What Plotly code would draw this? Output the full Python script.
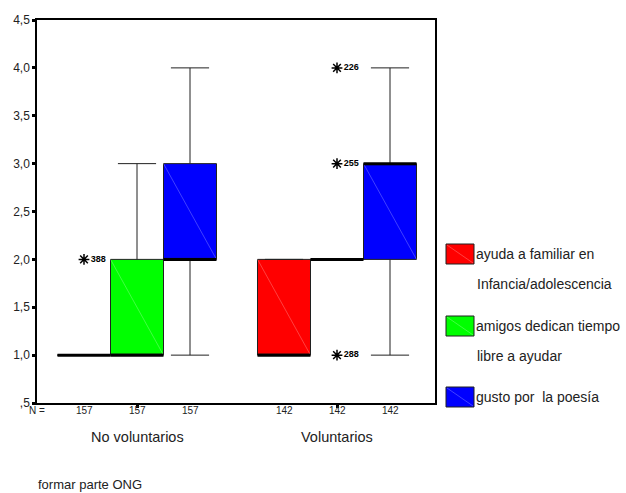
import plotly.graph_objects as go

# ---------------- data ----------------
groups = ["No voluntarios", "Voluntarios"]
n_counts = [157, 142]
series = ["ayuda a familiar en", "amigos dedican tiempo", "gusto por  la poesía"]
series_line2 = ["Infancia/adolescencia", "libre a ayudar", ""]
colors = ["#FF0000", "#00FF00", "#0000FF"]

q1_vals = [[1, 1], [1, 2], [2, 2]]
median_vals = [[1, 1], [1, 2], [2, 3]]
q3_vals = [[1, 2], [2, 2], [3, 3]]
lower_vals = [[1, 1], [1, 2], [1, 1]]
upper_vals = [[1, 2], [3, 2], [4, 4]]

# outliers: (series index, group index, value, case label)
outlier_series = [0, 1, 1, 1]
outlier_group = [0, 1, 1, 1]
outlier_values = [2, 4, 3, 1]
outlier_labels = ["388", "226", "255", "288"]

y_tickvals = [0.5, 1.0, 1.5, 2.0, 2.5, 3.0, 3.5, 4.0, 4.5]
y_ticktext = [",5", "1,0", "1,5", "2,0", "2,5", "3,0", "3,5", "4,0", "4,5"]

# ---------------- layout constants ----------------
W, H = 626, 493
ML, MR, MT, MB = 37, 191, 20, 90
PW, PH = W - ML - MR, H - MT - MB
BOXW = 0.265
OFFS = [-BOXW, 0.0, BOXW]
FONT = "Liberation Sans, Arial, sans-serif"


def pxx(px):
    return (px - ML) / PW


def pxy(py):
    return (H - MB - py) / PH


def pos(si, gi):
    return gi + OFFS[si]


fig = go.Figure()

for si in range(3):
    xs = [pos(si, gi) for gi in range(2)]
    fig.add_trace(go.Box(
        x=xs,
        q1=q1_vals[si], median=median_vals[si], q3=q3_vals[si],
        lowerfence=lower_vals[si], upperfence=upper_vals[si],
        width=BOXW,
        fillcolor=colors[si],
        line=dict(color="#202020", width=1),
        whiskerwidth=0.72,
        boxpoints=False,
        showlegend=False,
        hoverinfo="skip",
    ))

# diagonal light lines within boxes
for si in range(3):
    dx, dy = [], []
    for gi in range(2):
        if q3_vals[si][gi] > q1_vals[si][gi]:
            p = pos(si, gi)
            dx += [p - BOXW / 2, p + BOXW / 2, None]
            dy += [q3_vals[si][gi], q1_vals[si][gi], None]
    if dx:
        fig.add_trace(go.Scatter(x=dx, y=dy, mode="lines",
                                 line=dict(color="rgba(255,255,255,0.25)", width=1),
                                 showlegend=False, hoverinfo="skip"))

# thick median lines
mx, my = [], []
for si in range(3):
    for gi in range(2):
        p = pos(si, gi)
        mx += [p - BOXW / 2, p + BOXW / 2, None]
        my += [median_vals[si][gi]] * 2 + [None]
fig.add_trace(go.Scatter(x=mx, y=my, mode="lines",
                         line=dict(color="black", width=3),
                         showlegend=False, hoverinfo="skip"))

# outliers
ox = [pos(s, g) for s, g in zip(outlier_series, outlier_group)]
fig.add_trace(go.Scatter(
    x=ox, y=outlier_values, mode="markers+text",
    marker=dict(symbol="asterisk-open", size=9, color="black",
                line=dict(color="black", width=1.5)),
    text=["<b>%s</b>" % t for t in outlier_labels],
    textposition="middle right",
    textfont=dict(family=FONT, size=9, color="black"),
    showlegend=False, hoverinfo="skip"))

annotations = []
# N row
annotations.append(dict(x=pxx(37), y=pxy(410), xref="paper", yref="paper", text="N =",
                        xanchor="center", yanchor="middle", showarrow=False,
                        font=dict(family=FONT, size=10, color="#222")))
for gi in range(2):
    for si in range(3):
        annotations.append(dict(x=pos(si, gi), y=pxy(410), xref="x", yref="paper",
                                text=str(n_counts[gi]), xanchor="center", yanchor="middle",
                                showarrow=False, font=dict(family=FONT, size=10, color="#222")))
    annotations.append(dict(x=gi, y=pxy(437), xref="x", yref="paper", text=groups[gi],
                            xanchor="center", yanchor="middle", showarrow=False,
                            font=dict(family=FONT, size=14.5, color="#222")))
annotations.append(dict(x=pxx(36), y=pxy(484), xref="paper", yref="paper",
                        text="formar parte ONG", xanchor="left", yanchor="middle",
                        showarrow=False, font=dict(family=FONT, size=13, color="#222")))

# legend
shapes = []
leg_tops = [244, 316, 387]
for si in range(3):
    t = leg_tops[si]
    shapes.append(dict(type="rect", xref="paper", yref="paper",
                       x0=pxx(446), x1=pxx(474), y0=pxy(t + 20), y1=pxy(t),
                       fillcolor=colors[si], line=dict(color="#202020", width=1)))
    shapes.append(dict(type="line", xref="paper", yref="paper",
                       x0=pxx(447), x1=pxx(473), y0=pxy(t + 1), y1=pxy(t + 19),
                       line=dict(color="rgba(255,255,255,0.25)", width=1)))
    annotations.append(dict(x=pxx(474), y=pxy(t + 10), xref="paper", yref="paper",
                            text=series[si], xanchor="left", yanchor="middle",
                            showarrow=False, font=dict(family=FONT, size=14, color="#222")))
    if series_line2[si]:
        annotations.append(dict(x=pxx(475), y=pxy(t + 40), xref="paper", yref="paper",
                                text=series_line2[si], xanchor="left", yanchor="middle",
                                showarrow=False, font=dict(family=FONT, size=14, color="#222")))

fig.update_layout(
    width=W, height=H,
    margin=dict(l=ML, r=MR, t=MT, b=MB),
    paper_bgcolor="white", plot_bgcolor="white",
    boxmode="overlay",
    showlegend=False,
    annotations=annotations,
    shapes=shapes,
    font=dict(family=FONT, size=11, color="#222"),
)
fig.update_xaxes(range=[-0.5, 1.49], showgrid=False, zeroline=False,
                 showline=True, linecolor="black", linewidth=1.5, mirror=True,
                 tickvals=[0, 1], ticktext=["", ""], ticks="outside",
                 ticklen=3, tickwidth=3, tickcolor="black")
fig.update_yaxes(range=[0.5, 4.5], showgrid=False, zeroline=False,
                 showline=True, linecolor="black", linewidth=1.5, mirror=True,
                 tickvals=y_tickvals, ticktext=y_ticktext, ticks="outside",
                 ticklen=3, tickwidth=3, tickcolor="black",
                 tickfont=dict(family=FONT, size=12, color="#222"))

fig.write_html("out.html")
